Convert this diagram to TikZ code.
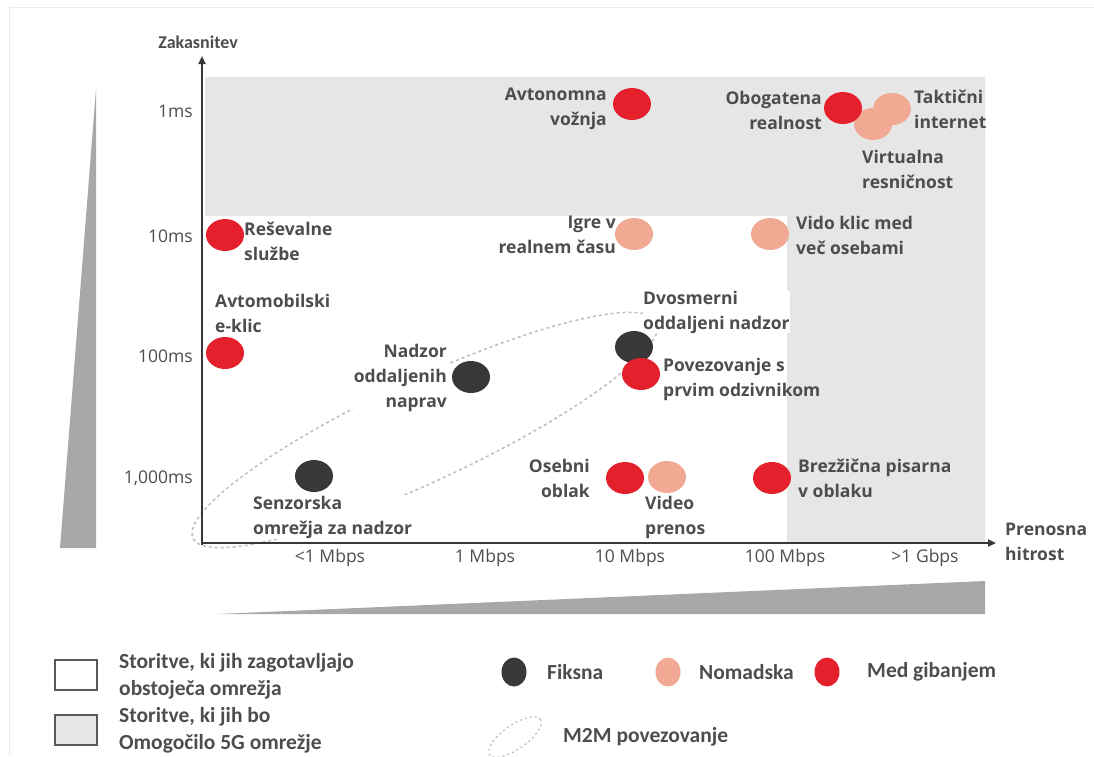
\documentclass[tikz,border=0pt]{standalone}
\usepackage{fontspec}
\setmainfont{Open Sans}
\newfontfamily\condfont{Carlito}
\usetikzlibrary{arrows.meta,shapes.geometric}
\definecolor{txt}{HTML}{4D4D4D}
\definecolor{region}{HTML}{E6E6E7}
\definecolor{wedge}{HTML}{A8A8AA}
\definecolor{cred}{HTML}{E3202B}
\definecolor{cnom}{HTML}{F2A993}
\definecolor{cfix}{HTML}{383838}
\definecolor{dashc}{HTML}{BDBDBD}
\tikzset{
  lbl/.style={font=\bfseries\fontsize{17.5}{25}\selectfont, text=txt, inner sep=1pt},
  tick/.style={font=\fontsize{17.5}{20}\selectfont, text=txt, inner sep=0pt},
  dotbase/.style={ellipse, minimum width=38pt, minimum height=32pt, inner sep=0pt},
  dotR/.style={dotbase, fill=cred},
  dotN/.style={dotbase, fill=cnom},
  dotF/.style={dotbase, fill=cfix},
  legdot/.style={ellipse, minimum width=25pt, minimum height=29pt, inner sep=0pt},
  leglbl/.style={font=\condfont\bfseries\fontsize{21.5}{27}\selectfont, text=txt, inner sep=0pt, align=left, anchor=west},
  m2m/.style={draw=dashc, line width=1.5pt, dash pattern=on 3pt off 3pt},
  axis/.style={draw=cfix, line width=2pt, -{Triangle[length=8pt,width=7pt]}},
}
\begin{document}
\begin{tikzpicture}[x=1pt,y=-1pt]
\useasboundingbox (0,0) rectangle (1094,756);
% faint page border
\draw[draw=black!8, line width=1pt] (9,756) -- (9,7) -- (1094,7);
% 5G region
\fill[region] (205,77) -- (985,77) -- (985,543) -- (787,543) -- (787,216) -- (205,216) -- cycle;
% wedges
\fill[wedge] (96,89) -- (96,548) -- (60,548) -- cycle;
\fill[wedge] (218,614) -- (985,581) -- (985,614) -- cycle;
% M2M ellipse
\draw[m2m, rotate around={25:(425,430)}] (425,430) ellipse [x radius=256, y radius=51];
% axes
\coordinate (O) at (202,545);
\coordinate (ytip) at (202,56);
\coordinate (xtip) at (996,543);
\draw[axis] (O) -- (ytip);
\draw[axis] (202,543) -- (xtip);
\node[font=\condfont\bfseries\fontsize{18}{22}\selectfont, text=txt, inner sep=0pt] (ylab) at (198,42) {Zakasnitev};
\node[lbl, anchor=west, align=left] (xlab) at (1004,542) {Prenosna\\hitrost};
% ticks
\node[tick, anchor=east] (t1) at (193,111) {1ms};
\node[tick, anchor=east] (t10) at (193,236) {10ms};
\node[tick, anchor=east] (t100) at (193,356) {100ms};
\node[tick, anchor=east] (t1000) at (193,478) {1,000ms};
\node[tick] (x1) at (330,558) {<1 Mbps};
\node[tick] (x2) at (485,558) {1 Mbps};
\node[tick] (x3) at (630,558) {10 Mbps};
\node[tick] (x4) at (785,558) {100 Mbps};
\node[tick] (x5) at (925,558) {>1 Gbps};
% dots
\node[dotR] (avt) at (632,104) {};
\node[dotN] (vir) at (873,124) {};
\node[dotN] (tak) at (892,109) {};
\node[dotR] (obo) at (843,108) {};
\node[dotR] (res) at (225,235) {};
\node[dotN] (igr) at (634,234) {};
\node[dotN] (vid) at (770,234) {};
\node[dotR] (avk) at (225,353) {};
\node[dotF] (nad) at (471,377) {};
\node[dotF] (dvo) at (634,347) {};
\node[dotR] (pov) at (641,374) {};
\node[dotF] (sen) at (314,476) {};
\node[dotR] (ose) at (625,478) {};
\node[dotN] (vpr) at (667,477) {};
\node[dotR] (bre) at (772,478) {};
% labels
\node[lbl, anchor=east, align=right] (avtL) at (608,109) {Avtonomna\\vožnja};
\node[lbl, anchor=east, align=right] (oboL) at (823,110) {Obogatena\\realnost};
\node[lbl, anchor=west, align=left] (takL) at (913,109) {Taktični\\internet};
\node[lbl, anchor=west, align=left] (virL) at (861,169) {Virtualna\\resničnost};
\node[lbl, anchor=west, align=left] (resL) at (243,241) {Reševalne\\službe};
\node[lbl, anchor=east, align=right] (igrL) at (617,235) {Igre v\\realnem času};
\node[lbl, anchor=west, align=left] (vidL) at (795,235) {Vido klic med\\več osebami};
\node[lbl, anchor=west, align=left] (avkL) at (214,313) {Avtomobilski\\e-klic};
\node[lbl, anchor=east, align=right, fill=white] (nadL) at (448,378) {Nadzor\\oddaljenih\\naprav};
\node[lbl, anchor=west, align=left, fill=white, inner sep=0pt] (dvoL) at (643,312) {Dvosmerni\\oddaljeni nadzor};
\node[lbl, anchor=west, align=left] (povL) at (662,379) {Povezovanje s\\prvim odzivnikom};
\node[lbl, anchor=west, align=left, fill=white] (senL) at (252,517) {Senzorska\\omrežja za nadzor};
\node[lbl, anchor=east, align=right] (oseL) at (591,478) {Osebni\\oblak};
\node[lbl, anchor=west, align=left] (vprL) at (644,517) {Video\\prenos};
\node[lbl, anchor=west, align=left] (breL) at (797,478) {Brezžična pisarna\\v oblaku};
% legend
\node[draw=black!65, line width=1.3pt, fill=white, minimum width=42pt, minimum height=30pt, inner sep=0pt] (box1) at (76,675) {};
\node[draw=black!65, line width=1.3pt, fill=region, minimum width=42pt, minimum height=30pt, inner sep=0pt] (box2) at (76,730) {};
\node[leglbl] (box1L) at (119,676) {Storitve, ki jih zagotavljajo\\obstoječa omrežja};
\node[leglbl] (box2L) at (119,730) {Storitve, ki jih bo\\Omogočilo 5G omrežje};
\node[legdot, fill=cfix] (lf) at (514,672) {};
\node[leglbl] (lfL) at (547,672) {Fiksna};
\node[legdot, fill=cnom] (ln) at (668,672) {};
\node[leglbl] (lnL) at (699,672) {Nomadska};
\node[legdot, fill=cred] (lr) at (827,672) {};
\node[leglbl] (lrL) at (867,672) {Med gibanjem};
\draw[m2m, line width=1.2pt, dash pattern=on 2pt off 3pt, rotate around={35:(515,737)}] (515,737) ellipse [x radius=31, y radius=12];
\node[leglbl] (lmL) at (563,737) {M2M povezovanje};
\end{tikzpicture}
\end{document}
